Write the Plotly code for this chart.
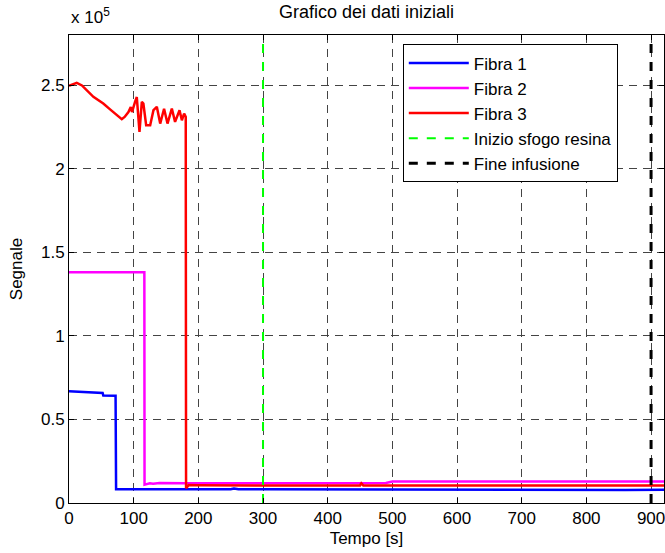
import plotly.graph_objects as go

# ---- data ----
t_fibra1 = [0, 15, 32, 33, 52, 53, 72, 72.8, 80, 150, 250, 255, 262, 300, 400, 500, 600, 620, 700, 800, 860, 920]
s_fibra1 = [66800, 66600, 66400, 66100, 65800, 64300, 64200, 8200, 8200, 8200, 8300, 8700, 8300, 8200, 8100, 8000, 7900, 7700, 7900, 7900, 7800, 7900]

t_fibra2 = [0, 30, 60, 90, 116.5, 116.8, 120, 125, 130, 140, 180, 250, 300, 370, 400, 490, 500, 600, 700, 800, 920]
s_fibra2 = [138000, 137900, 138200, 137900, 138000, 11000, 11200, 11800, 11500, 12000, 11800, 11900, 11800, 12100, 11900, 12000, 12800, 12700, 12800, 12700, 12800]

t_fibra3 = [0, 1.5, 12, 20, 37.7, 53, 63.5, 76.4, 81.6, 86, 91.9, 95.5, 97.4, 102, 104.8, 109, 112.6, 115, 119.3, 125.5,
            130.6, 135.8, 141, 147, 152.3, 159, 164, 170.9, 174.5, 178, 180.5, 181, 185, 200, 250, 300, 400, 450, 452, 455, 500, 600, 700, 800, 920]
s_fibra3 = [250000, 249800, 251400, 249800, 243000, 239000, 235500, 231000, 229600, 231000, 233900, 236900, 233900, 239900, 242900, 222000, 240000, 239000, 226000, 226000,
            235000, 237000, 227000, 235900, 227000, 236000, 228000, 235000, 229000, 233000, 231000, 8800, 10700, 10600, 10500, 10300, 10400, 10500, 11800, 10500, 10500, 10400, 10300, 10400, 10400]

t_sfogo = [300, 300]
t_fine = [900, 900]
y_span = [0, 280000]

x_ticks = [0, 100, 200, 300, 400, 500, 600, 700, 800, 900]
y_ticks = [0, 50000, 100000, 150000, 200000, 250000]
y_tick_text = ["0", "0.5", "1", "1.5", "2", "2.5"]

FONT = "Liberation Sans, Arial, sans-serif"
FS = 17

fig = go.Figure()
fig.add_trace(go.Scatter(x=t_fibra1, y=s_fibra1, mode="lines", name="Fibra 1",
                         line=dict(color="#0000ff", width=2.5)))
fig.add_trace(go.Scatter(x=t_fibra2, y=s_fibra2, mode="lines", name="Fibra 2",
                         line=dict(color="#ff00ff", width=2.5)))
fig.add_trace(go.Scatter(x=t_fibra3, y=s_fibra3, mode="lines", name="Fibra 3",
                         line=dict(color="#ff0000", width=2.5)))
fig.add_trace(go.Scatter(x=t_sfogo, y=y_span, mode="lines", name="Inizio sfogo resina",
                         line=dict(color="#00ff00", width=2, dash="dash")))
fig.add_trace(go.Scatter(x=t_fine, y=y_span, mode="lines", name="Fine infusione",
                         line=dict(color="#000000", width=3, dash="dash")))

axis_common = dict(showline=True, linecolor="black", linewidth=1, mirror="ticks",
                   ticks="inside", ticklen=5, tickcolor="black",
                   showgrid=True, gridcolor="#444444", gridwidth=1, griddash="8px,6px",
                   zeroline=False, tickfont=dict(size=FS, color="black", family=FONT),
                   ticklabeloverflow="allow")

fig.update_xaxes(range=[0, 920], tickvals=x_ticks,
                 title=dict(text="Tempo [s]", font=dict(size=FS, color="black", family=FONT), standoff=4),
                 **axis_common)
fig.update_yaxes(range=[0, 280000], tickvals=y_ticks, ticktext=y_tick_text,
                 title=dict(text="Segnale", font=dict(size=FS, color="black", family=FONT), standoff=14),
                 **axis_common)

fig.update_layout(
    width=665, height=553,
    margin=dict(l=69, r=1, t=35, b=50),
    paper_bgcolor="white", plot_bgcolor="white",
    font=dict(family=FONT, color="black", size=FS),
    title=dict(text="Grafico dei dati iniziali", x=0.5, xref="paper", xanchor="center",
               y=0.978, yref="container", yanchor="middle",
               font=dict(size=18, family=FONT, color="black")),
    showlegend=True,
    legend=dict(x=0.561, y=0.98, xanchor="left", yanchor="top",
                bgcolor="white", bordercolor="black", borderwidth=1,
                font=dict(size=FS, family=FONT, color="black"), itemwidth=60,
                tracegroupgap=0),
    annotations=[dict(text="x 10<sup>5</sup>", x=0, y=1.0, xref="paper", yref="paper",
                      xanchor="left", yanchor="bottom", yshift=6, showarrow=False,
                      font=dict(size=FS, family=FONT, color="black"))],
)

fig.write_html("out.html")
